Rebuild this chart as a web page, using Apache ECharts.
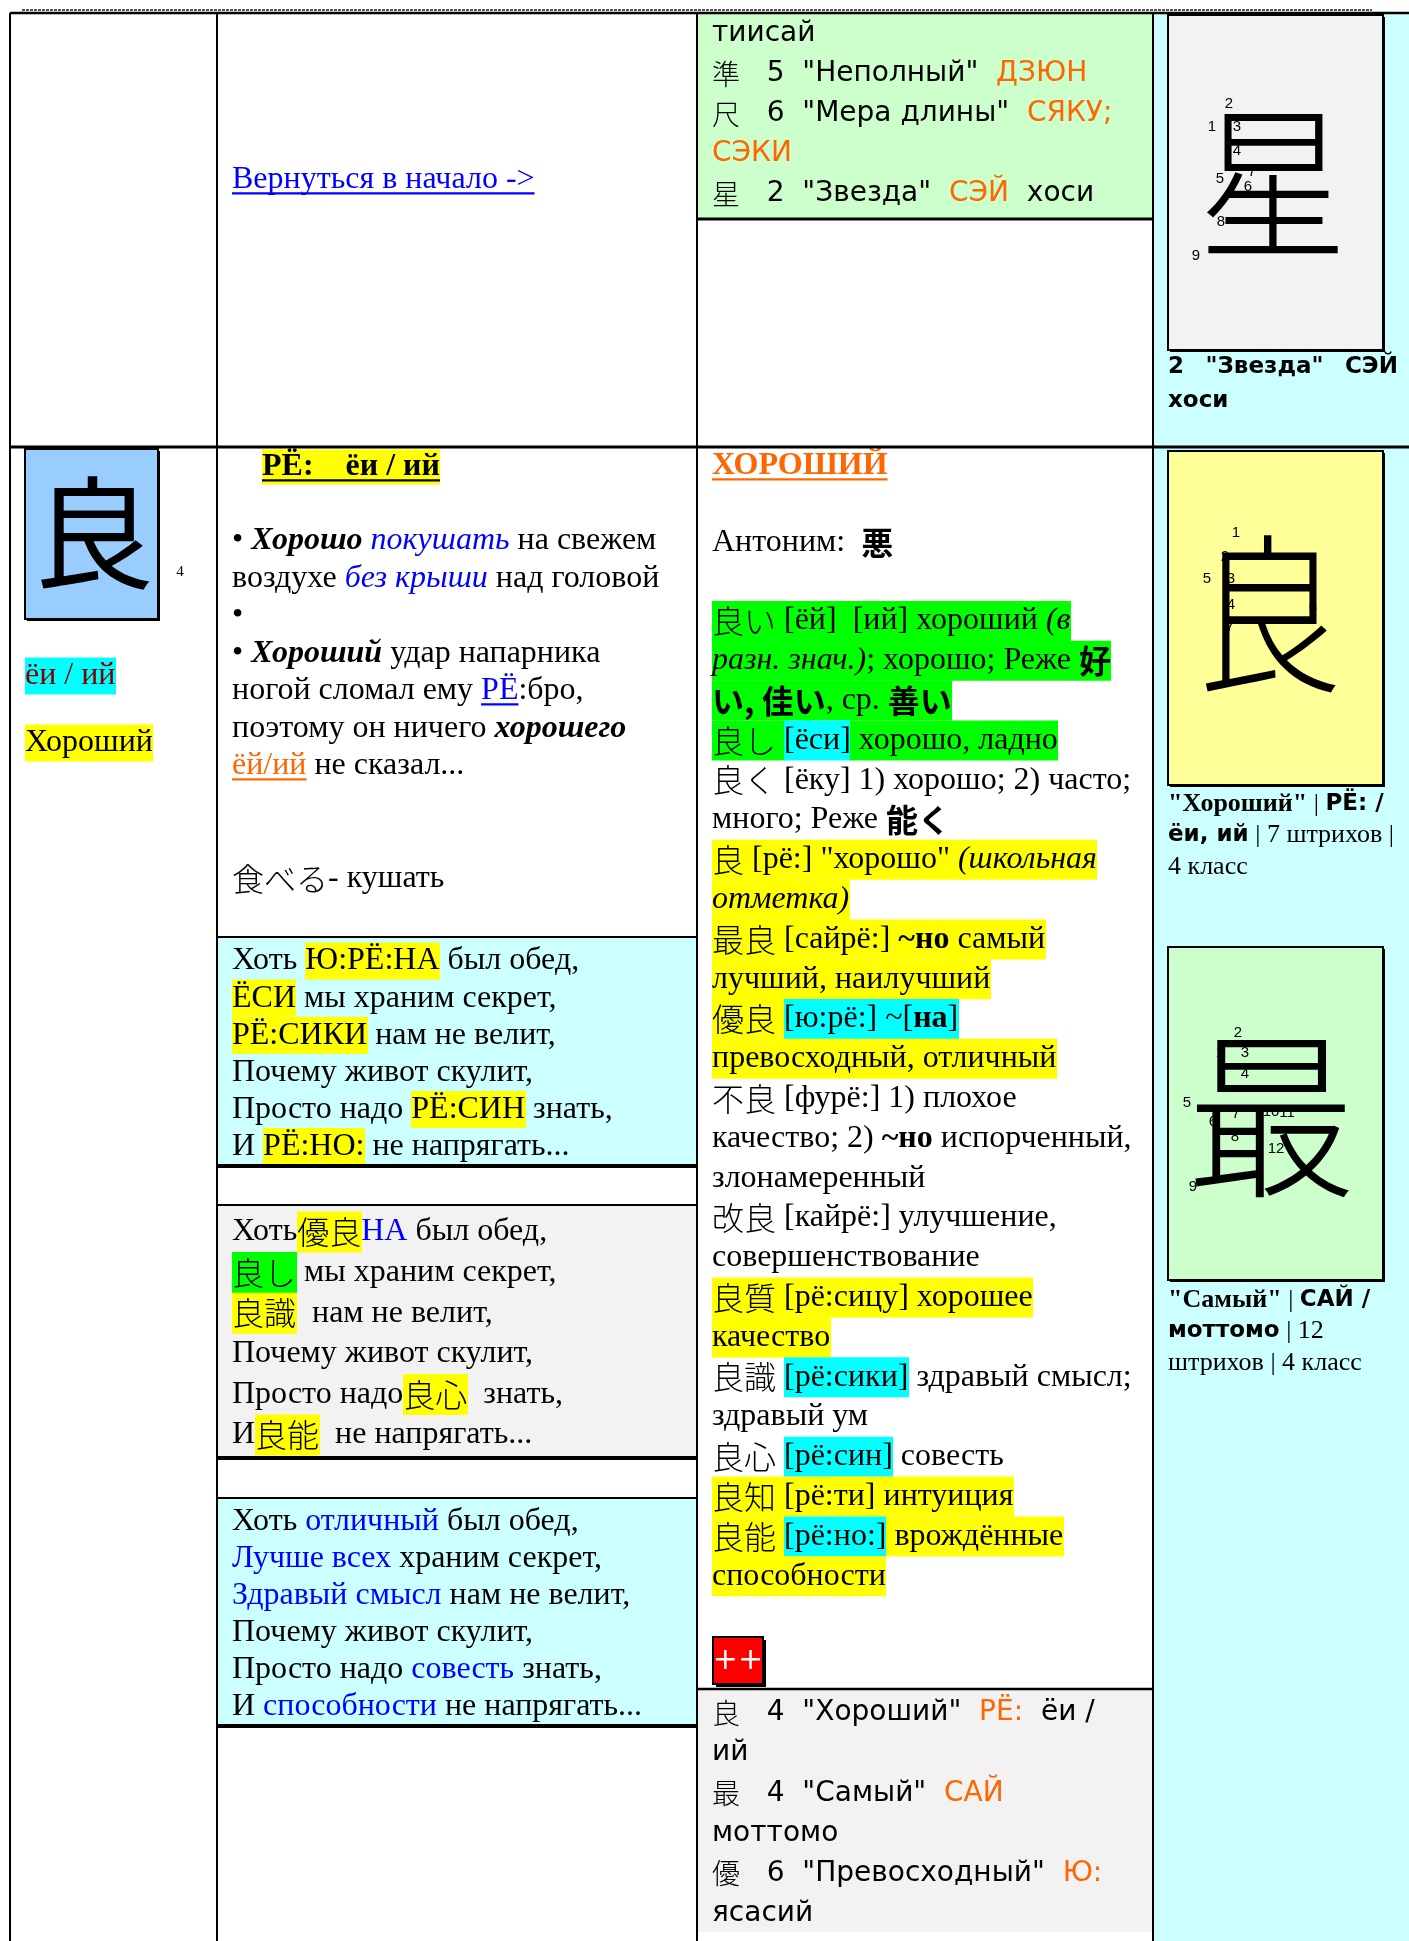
<!DOCTYPE html>
<html><head><meta charset="utf-8">
<script src="https://cdn.jsdelivr.net/npm/echarts@6/dist/echarts.min.js"></script>
<style>html,body{margin:0;padding:0;background:#fff}#c{width:1409px;height:1941px}</style>
</head><body><div id="c"></div>
<script>
// ================= DATA (text content only) =================
const linkText = [['Вернуться в начало ->', 'blue u']];

const topCellLines = [
  [['тиисай', '']],
  [['準', 'k'], ['   5  "Неполный"  ', ''], ['ДЗЮН', 'orange']],
  [['尺', 'k'], ['   6  "Мера длины"  ', ''], ['СЯКУ;', 'orange']],
  [['СЭКИ', 'orange']],
  [['星', 'k'], ['   2  "Звезда"  ', ''], ['СЭЙ', 'orange'], ['  хоси', '']]
];

const bigKanji = '良';
const bigKanjiGrade = '4';
const kanjiLabels = [
  [['ёи / ий', 'C dred']],
  [['Хороший', 'Y']]
];

const readingHeader = [['РЁ:    ёи / ий', 'b Y u']];

const exampleLines = [
  [['• ', ''], ['Хорошо', 'bi'], [' ', ''], ['покушать', 'i blue'], [' на свежем', '']],
  [['воздухе ', ''], ['без крыши', 'i blue'], [' над головой', '']],
  [['•', '']],
  [['• ', ''], ['Хороший', 'bi'], [' удар напарника', '']],
  [['ногой сломал ему ', ''], ['РЁ', 'blue u'], [':бро,', '']],
  [['поэтому он ничего ', ''], ['хорошего', 'bi']],
  [['ёй/ий', 'orange u'], [' не сказал...', '']],
  [],
  [],
  [['食べる', 'k'], ['- кушать', '']]
];

const poemReadings = [
  [['Хоть ', ''], ['Ю:РЁ:НА', 'Y'], [' был обед,', '']],
  [['ЁСИ', 'Y'], [' мы храним секрет,', '']],
  [['РЁ:СИКИ', 'Y'], [' нам не велит,', '']],
  [['Почему живот скулит,', '']],
  [['Просто надо ', ''], ['РЁ:СИН', 'Y'], [' знать,', '']],
  [['И ', ''], ['РЁ:НО:', 'Y'], [' не напрягать...', '']]
];

const poemKanji = [
  [['Хоть', ''], ['優良', 'Y k'], ['НА', 'blue'], [' был обед,', '']],
  [['良し', 'G k'], [' мы храним секрет,', '']],
  [['良識', 'Y k'], ['  нам не велит,', '']],
  [['Почему живот скулит,', '']],
  [['Просто надо', ''], ['良心', 'Y k'], ['  знать,', '']],
  [['И', ''], ['良能', 'Y k'], ['  не напрягать...', '']]
];

const poemMeaning = [
  [['Хоть ', ''], ['отличный', 'blue'], [' был обед,', '']],
  [['Лучше всех', 'blue'], [' храним секрет,', '']],
  [['Здравый смысл', 'blue'], [' нам не велит,', '']],
  [['Почему живот скулит,', '']],
  [['Просто надо ', ''], ['совесть', 'blue'], [' знать,', '']],
  [['И ', ''], ['способности', 'blue'], [' не напрягать...', '']]
];

const meaningTitle = [['ХОРОШИЙ', 'b orange u']];
const antonymLine = [['Антоним:  ', ''], ['悪', 'kb']];

const dictLines = [
  [['良い', 'G k'], [' [ёй]  [ий] хороший ', 'G'], ['(в', 'G i']],
  [['разн. знач.)', 'G i'], ['; хорошо; Реже ', 'G'], ['好', 'G kb']],
  [['い, 佳い', 'G kb'], [', ср. ', 'G'], ['善い', 'G kb']],
  [['良し', 'G k'], [' ', 'G'], ['[ёси]', 'C'], [' хорошо, ладно', 'G']],
  [['良く', 'k'], [' [ёку] 1) хорошо; 2) часто;', '']],
  [['много; Реже ', ''], ['能く', 'kb']],
  [['良', 'Y k'], [' [рё:] "хорошо" ', 'Y'], ['(школьная', 'Y i']],
  [['отметка)', 'Y i']],
  [['最良', 'Y k'], [' [сайрё:] ', 'Y'], ['~но', 'Y b'], [' самый', 'Y']],
  [['лучший, наилучший', 'Y']],
  [['優良', 'Y k'], [' ', 'Y'], ['[ю:рё:] ~[', 'C'], ['на', 'C b'], [']', 'C']],
  [['превосходный, отличный', 'Y']],
  [['不良', 'k'], [' [фурё:] 1) плохое', '']],
  [['качество; 2) ', ''], ['~но', 'b'], [' испорченный,', '']],
  [['злонамеренный', '']],
  [['改良', 'k'], [' [кайрё:] улучшение,', '']],
  [['совершенствование', '']],
  [['良質', 'Y k'], [' [рё:сицу] хорошее', 'Y']],
  [['качество', 'Y']],
  [['良識', 'k'], [' ', ''], ['[рё:сики]', 'C'], [' здравый смысл;', '']],
  [['здравый ум', '']],
  [['良心', 'k'], [' ', ''], ['[рё:син]', 'C'], [' совесть', '']],
  [['良知', 'Y k'], [' [рё:ти] интуиция', 'Y']],
  [['良能', 'Y k'], [' ', 'Y'], ['[рё:но:]', 'C'], [' врождённые', 'Y']],
  [['способности', 'Y']]
];

const plusLabel = '++';

const summaryLines = [
  [['良', 'k'], ['   4  "Хороший"  ', ''], ['РЁ:', 'orange'], ['  ёи /', '']],
  [['ий', '']],
  [['最', 'k'], ['   4  "Самый"  ', ''], ['САЙ', 'orange']],
  [['моттомо', '']],
  [['優', 'k'], ['   6  "Превосходный"  ', ''], ['Ю:', 'orange']],
  [['ясасий', '']]
];

const cardKanji = ['星', '良', '最'];
const cardStrokeLabels = [
  ['1', '2', '3', '4', '5', '6', '7', '8', '9'],
  ['1', '2', '3', '4', '5', '6', '7'],
  ['1', '2', '3', '4', '5', '6', '7', '8', '9', '10', '11', '12']
];
const cardCaptions = [
  [[['2 "Звезда" СЭЙ', 'sb']], [['хоси', 'sb']]],
  [[['"Хороший"', 'b'], [' | ', ''], ['РЁ: /', 'sb']], [['ёи, ий', 'sb'], [' | 7 штрихов |', '']], [['4 класс', '']]],
  [[['"Самый"', 'b'], [' | ', ''], ['САЙ /', 'sb']], [['моттомо', 'sb'], [' | 12', '']], [['штрихов | 4 класс', '']]]
];

// ================= LAYOUT & STYLE =================
const W = 1409, H = 1941;
const SERIF = '"Liberation Serif", "Times New Roman", "Noto Sans CJK JP", serif';
const SANS = '"DejaVu Sans", Verdana, "Noto Sans CJK JP", sans-serif';
const CJK = '"Noto Sans CJK JP", sans-serif';
const COLORS = { blue: '#0000ff', orange: '#ff6600', dred: '#800000', white: '#ffffff' };
const BGS = { Y: '#ffff00', C: '#00ffff', G: '#00ff00' };

const COLX = [10, 217, 697, 1153];
const TOP = 13, MID = 447;

const L = {
  link: [232, 180],
  topCell: { x: 712, y0: 34, step: 40 },
  header: [262, 467],
  examples: { x: 232, y0: 541, step: 37.5 },
  poem1: { x: 232, y0: 961, step: 37.1 },
  poem2: { x: 232, y0: 1232, step: 40.6 },
  poem3: { x: 232, y0: 1522, step: 37 },
  labels: { x: 25, ys: [676, 743] },
  bigBox: [25, 449, 133, 170],
  bigGlyph: [93, 533, 122],
  grade: [180, 572],
  title: [712, 466],
  antonym: [712, 543],
  dict: { x: 712, y0: 621, step: 39.8 },
  summary: { x: 712, y0: 1713, step: 40.2 },
  plus: [713, 1637, 50, 47],
  cards: [
    { box: [1168, 15, 215, 335], fill: '#f2f2f2', glyph: [1273, 182, 166, 0.9],
      nums: [[1212, 127], [1229, 104], [1237, 127], [1237, 151], [1220, 179], [1248, 187], [1252, 172], [1221, 222], [1196, 256]],
      cap: { y0: 367, step: 34, justify: 230 } },
    { box: [1168, 451, 215, 334], fill: '#ffff99', glyph: [1268, 614, 172, 0.86],
      nums: [[1236, 533], [1225, 557], [1231, 579], [1231, 605], [1207, 579], [1313, 608], [1230, 627]],
      cap: { y0: 804, step: 31.5, justify: 0 } },
    { box: [1168, 947, 215, 333], fill: '#ccffcc', glyph: [1271, 1116, 178, 0.95],
      nums: [[1220, 1053], [1238, 1033], [1245, 1053], [1245, 1074], [1187, 1103], [1213, 1122], [1236, 1114], [1235, 1137], [1193, 1187], [1271, 1112], [1287, 1113], [1276, 1149]],
      cap: { y0: 1300, step: 31.5, justify: 0 } }
  ]
};

// ================= BUILD =================
const els = [];
const mctx = document.createElement('canvas').getContext('2d');
function tw(t, font) { mctx.font = font; return mctx.measureText(t).width; }
function rect(x, y, w, h, fill, z, stroke, lw) {
  els.push({ type: 'rect', silent: true, z: z || 0, shape: { x: x, y: y, width: w, height: h },
    style: { fill: fill || 'none', stroke: stroke || null, lineWidth: lw || 0 } });
}
function line(x1, y1, x2, y2, color, lw, z, dash) {
  els.push({ type: 'line', silent: true, z: z == null ? 10 : z, shape: { x1: x1, y1: y1, x2: x2, y2: y2 },
    style: { stroke: color, lineWidth: lw, lineDash: dash || null } });
}
function txt(x, y, t, font, fill, align, z, extra, styleExtra) {
  const e = { type: 'text', silent: true, x: x, y: y, z: z || 5,
    style: { text: t, font: font, fill: fill, textAlign: align || 'left', textVerticalAlign: 'middle' } };
  if (extra) Object.assign(e, extra);
  if (styleExtra) Object.assign(e.style, styleExtra);
  els.push(e);
}
function resolve(seg, base) {
  const t = seg[0];
  const fl = (seg[1] || '').split(/\s+/).filter(Boolean);
  let family = base.family, size = base.size, weight = base.weight || 'normal', fst = 'normal';
  let color = base.color || '#000', bg = null, ul = false;
  for (const f of fl) {
    if (f === 'b') weight = 'bold';
    else if (f === 'i') fst = 'italic';
    else if (f === 'bi') { weight = 'bold'; fst = 'italic'; }
    else if (f === 'u') ul = true;
    else if (f === 'k') { family = CJK; weight = '300'; }
    else if (f === 'kb') { family = CJK; weight = 'bold'; }
    else if (f === 'sb') { family = SANS; weight = 'bold'; size = base.sansSize || size; }
    else if (COLORS[f]) color = COLORS[f];
    else if (BGS[f]) bg = BGS[f];
  }
  return { t: t, font: fst + ' ' + weight + ' ' + size + 'px ' + family, color: color, bg: bg, ul: ul, size: size };
}
function drawLine(segs, x, yc, base, lh, justify) {
  const parts = segs.map(s => resolve(s, base));
  let extra = 0;
  if (justify) {
    const nat = parts.reduce((a, p) => a + tw(p.t, p.font), 0);
    const ns = parts.reduce((a, p) => a + (p.t.match(/ /g) || []).length, 0);
    if (ns > 0) extra = Math.max(0, (justify - nat) / ns);
  }
  let cx = x;
  for (const p of parts) {
    const sx = cx;
    const toks = extra ? p.t.split(/( +)/).filter(s => s.length) : [p.t];
    for (const tk of toks) {
      const w = tw(tk, p.font);
      if (extra && /^ +$/.test(tk)) { cx += w + extra * tk.length; continue; }
      txt(cx, yc, tk, p.font, p.color, 'left', 5);
      cx += w;
    }
    if (p.bg) rect(Math.floor(sx), yc - lh / 2, Math.ceil(cx) - Math.floor(sx), lh, p.bg, 2);
    if (p.ul) line(sx, yc + p.size * 0.42, cx, yc + p.size * 0.42, p.color, Math.max(1.5, p.size / 14), 4);
  }
}
function drawBlock(lines, x, y0, step, base, lh, justify) {
  lines.forEach((segs, i) => {
    if (segs && segs.length) drawLine(segs, x, y0 + i * step, base, lh, justify && i < lines.length - 1 ? justify : 0);
  });
}

const BODY = { family: SERIF, size: 32 };
const SANSBASE = { family: SANS, size: 28 };
const CAP = { family: SERIF, size: 26, sansSize: 23 };

// --- cell fills ---
rect(COLX[3], TOP, W - COLX[3], H - TOP, '#ccffff', 0);
rect(COLX[2], TOP, COLX[3] - COLX[2], 219 - TOP, '#ccffcc', 0);
rect(COLX[1], 937, COLX[2] - COLX[1], 1166 - 937, '#ccffff', 0);
rect(COLX[1], 1205, COLX[2] - COLX[1], 1458 - 1205, '#f2f2f2', 0);
rect(COLX[1], 1498, COLX[2] - COLX[1], 1726 - 1498, '#ccffff', 0);
rect(COLX[2], 1689, COLX[3] - COLX[2], 1932 - 1689, '#f2f2f2', 0);

// --- borders ---
line(22, 10, 1372, 10, '#555', 2, 10, [3, 1]);
line(COLX[0], TOP, W, TOP, '#000', 2.5);
COLX.forEach(x => line(x, TOP, x, H, '#000', 2));
line(COLX[0], MID, W, MID, '#000', 3);
line(COLX[2], 219, COLX[3], 219, '#000', 3);
[[937, 2], [1166, 4], [1205, 2], [1458, 4], [1498, 2], [1726, 4]].forEach(([y, w]) => line(COLX[1], y, COLX[2], y, '#000', w));
line(COLX[2], 1689, COLX[3], 1689, '#000', 2.5);

// --- row 1 ---
drawLine(linkText, L.link[0], L.link[1], BODY, 36);
drawBlock(topCellLines, L.topCell.x, L.topCell.y0, L.topCell.step, SANSBASE, 40);

// --- column 0, row 2 ---
rect(L.bigBox[0] + 2, L.bigBox[1] + 2, L.bigBox[2], L.bigBox[3], '#000', 1);
rect(L.bigBox[0], L.bigBox[1], L.bigBox[2], L.bigBox[3], '#99ccff', 2, '#000', 2);
txt(L.bigGlyph[0], L.bigGlyph[1], bigKanji, 'normal ' + L.bigGlyph[2] + 'px ' + CJK, '#000', 'center', 5);
txt(L.grade[0], L.grade[1], bigKanjiGrade, '15px ' + SERIF, '#000', 'center', 5);
kanjiLabels.forEach((segs, i) => drawLine(segs, L.labels.x, L.labels.ys[i], BODY, 37));

// --- column 1, row 2 ---
drawLine(readingHeader, L.header[0], L.header[1], BODY, 35);
drawBlock(exampleLines, L.examples.x, L.examples.y0, L.examples.step, BODY, 37);
drawBlock(poemReadings, L.poem1.x, L.poem1.y0, L.poem1.step, BODY, 37);
drawBlock(poemKanji, L.poem2.x, L.poem2.y0, L.poem2.step, BODY, 41);
drawBlock(poemMeaning, L.poem3.x, L.poem3.y0, L.poem3.step, BODY, 37);

// --- column 2, row 2 ---
drawLine(meaningTitle, L.title[0], L.title[1], BODY, 36);
drawLine(antonymLine, L.antonym[0], L.antonym[1], BODY, 37);
drawBlock(dictLines, L.dict.x, L.dict.y0, L.dict.step, BODY, 40);
rect(L.plus[0] + 3, L.plus[1] + 3, L.plus[2], L.plus[3], '#000', 1);
rect(L.plus[0], L.plus[1], L.plus[2], L.plus[3], '#ff0000', 2, '#000', 2);
txt(L.plus[0] + L.plus[2] / 2, L.plus[1] + L.plus[3] / 2 + 1, plusLabel, '30px ' + SANS, '#fff', 'center', 5);
drawBlock(summaryLines, L.summary.x, L.summary.y0, L.summary.step, SANSBASE, 40);

// --- column 3: stroke cards ---
L.cards.forEach((c, i) => {
  const b = c.box;
  rect(b[0] + 2, b[1] + 2, b[2], b[3], '#000', 1);
  rect(b[0], b[1], b[2], b[3], c.fill, 2, '#000', 2);
  // glyph, thinned by an outline in the card colour
  txt(c.glyph[0], c.glyph[1], cardKanji[i], '300 ' + c.glyph[2] + 'px ' + CJK, '#000', 'center', 5,
    { scaleX: c.glyph[3], scaleY: 1 }, { stroke: c.fill, lineWidth: 3.5 });
  cardStrokeLabels[i].forEach((n, j) => {
    const p = c.nums[j];
    txt(p[0], p[1], n, '15px "Liberation Sans", Arial, sans-serif', '#000', 'center', 6);
  });
  drawBlock(cardCaptions[i], b[0], c.cap.y0, c.cap.step, CAP, 30, c.cap.justify);
});

const chart = echarts.init(document.getElementById('c'), null, { renderer: 'canvas', width: W, height: H });
chart.setOption({ backgroundColor: '#ffffff', animation: false, graphic: { elements: els } });
</script>
</body></html>
